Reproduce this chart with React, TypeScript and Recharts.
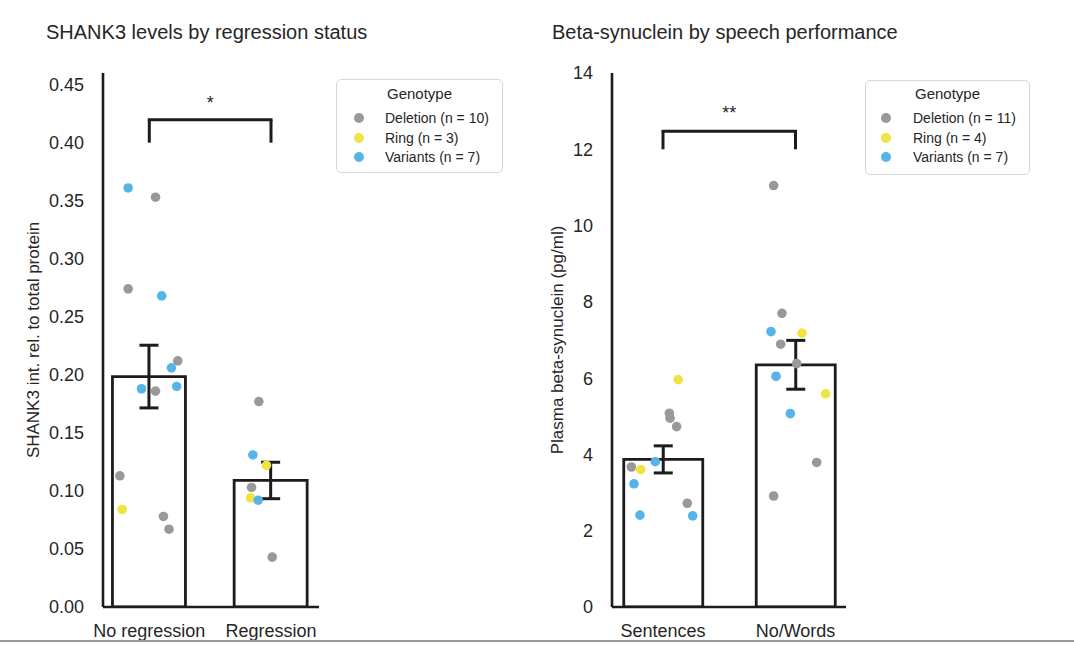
import React from 'react';
import { ComposedChart, Bar, ErrorBar, Scatter, XAxis, YAxis, ReferenceLine, Legend } from 'recharts';

// ---------- shared ----------
const GENOTYPES = ['Deletion', 'Ring', 'Variants'];
const GENO_COLORS = ['#999999', '#F0E442', '#56B4E9'];

// ---------- left panel: SHANK3 ----------
const shankCategories = ['No regression', 'Regression'];
const shankMeans = [0.1985, 0.109];
const shankSem = [0.027, 0.0157];
const shankTicks = [0, 0.05, 0.1, 0.15, 0.2, 0.25, 0.3, 0.35, 0.4, 0.45];
const shankCounts = [10, 3, 7];

const shankDelValues = [0.353, 0.274, 0.212, 0.186, 0.113, 0.078, 0.067, 0.177, 0.103, 0.043];
const shankDelGroup = [0, 0, 0, 0, 0, 0, 0, 1, 1, 1];
const shankDelJitter = [0.051, -0.174, 0.234, 0.051, -0.242, 0.116, 0.162, -0.1, -0.16, 0.01];

const shankRingValues = [0.084, 0.122, 0.094];
const shankRingGroup = [0, 1, 1];
const shankRingJitter = [-0.223, -0.037, -0.168];

const shankVarValues = [0.361, 0.268, 0.206, 0.188, 0.19, 0.131, 0.092];
const shankVarGroup = [0, 0, 0, 0, 0, 1, 1];
const shankVarJitter = [-0.174, 0.102, 0.182, -0.064, 0.225, -0.149, -0.105];

// ---------- right panel: beta-synuclein ----------
const betaCategories = ['Sentences', 'No/Words'];
const betaMeans = [3.87, 6.35];
const betaSem = [0.355, 0.64];
const betaTicks = [0, 2, 4, 6, 8, 10, 12, 14];
const betaCounts = [11, 4, 7];

const betaDelValues = [5.08, 4.95, 4.73, 3.67, 2.72, 11.05, 7.7, 6.89, 6.38, 3.79, 2.91];
const betaDelGroup = [0, 0, 0, 0, 0, 1, 1, 1, 1, 1, 1];
const betaDelJitter = [0.048, 0.053, 0.103, -0.239, 0.183, -0.165, -0.102, -0.112, 0.009, 0.16, -0.165];

const betaRingValues = [5.96, 3.6, 7.18, 5.59];
const betaRingGroup = [0, 0, 1, 1];
const betaRingJitter = [0.115, -0.168, 0.049, 0.228];

const betaVarValues = [3.81, 3.23, 2.41, 2.39, 7.22, 6.05, 5.07];
const betaVarGroup = [0, 0, 0, 0, 1, 1, 1];
const betaVarJitter = [-0.058, -0.219, -0.174, 0.224, -0.185, -0.147, -0.039];

const TEXT = '#262626';
const INK = '#1c1c1c';

function buildPoints(values: number[], groups: number[], jitter: number[]) {
  return values.map((v, i) => ({ x: groups[i] + jitter[i], y: v }));
}

function GenoLegend({ counts, circleX, textX, titleY, rowYs }: any) {
  return (
    <div
      style={{
        position: 'relative',
        width: '100%',
        height: '100%',
        boxSizing: 'border-box',
        border: '1px solid #d6d6d6',
        borderRadius: 5,
        background: '#fff',
        color: TEXT,
        fontFamily: '"Liberation Sans", Arial, sans-serif',
      }}
    >
      <div
        style={{
          position: 'absolute',
          left: 0,
          width: '100%',
          top: titleY - 10,
          height: 20,
          lineHeight: '20px',
          textAlign: 'center',
          fontSize: 15,
        }}
      >
        Genotype
      </div>
      {GENOTYPES.map((g, i) => (
        <React.Fragment key={g}>
          <div
            style={{
              position: 'absolute',
              left: circleX - 5,
              top: rowYs[i] - 5,
              width: 10,
              height: 10,
              borderRadius: '50%',
              background: GENO_COLORS[i],
            }}
          />
          <div
            style={{
              position: 'absolute',
              left: textX,
              top: rowYs[i] - 10,
              height: 20,
              lineHeight: '20px',
              fontSize: 14,
              whiteSpace: 'nowrap',
            }}
          >
            {`${g} (n = ${counts[i]})`}
          </div>
        </React.Fragment>
      ))}
    </div>
  );
}

function Panel(p: any) {
  const barData = p.categories.map((c: string, i: number) => ({ name: c, mean: p.means[i], err: p.sem[i] }));
  const dotShape = (color: string) => (props: any) => (
    <circle cx={props.cx} cy={props.cy} r={4.8} fill={color} />
  );
  return (
    <div style={{ position: 'absolute', left: p.left, top: 0 }}>
      <ComposedChart
        width={p.width}
        height={646}
        data={barData}
        margin={{ top: 73, right: p.marginRight, bottom: 9, left: 0 }}
      >
        <XAxis
          dataKey="name"
          type="category"
          axisLine={{ stroke: INK, strokeWidth: 2.6 }}
          tickLine={false}
          tickSize={0}
          tickMargin={17}
          height={30}
          interval={0}
          padding={{ left: p.padL, right: p.padR }}
          tick={{ fontSize: 18, fill: TEXT }}
        />
        <XAxis
          xAxisId="j"
          dataKey="x"
          type="number"
          domain={[-0.5, 1.5]}
          allowDataOverflow
          hide
          padding={{ left: p.padL, right: p.padR }}
        />
        <YAxis
          type="number"
          domain={p.yDomain}
          ticks={p.yTicks}
          interval={0}
          allowDataOverflow
          width={p.yAxisWidth}
          axisLine={{ stroke: INK, strokeWidth: 2.6 }}
          tickLine={false}
          tickSize={0}
          tickMargin={19}
          tickFormatter={p.fmt}
          tick={{ fontSize: 18, fill: TEXT }}
          label={{
            value: p.yLabel,
            angle: -90,
            position: 'insideLeft',
            offset: p.yLabelX,
            style: { textAnchor: 'middle' },
            fontSize: 17,
            fill: TEXT,
          }}
        />
        <Bar dataKey="mean" fill="#fff" stroke={INK} strokeWidth={2.8} barSize={p.barSize} isAnimationActive={false}>
          <ErrorBar dataKey="err" direction="y" width={9.5} stroke={INK} strokeWidth={3} />
        </Bar>
        {p.series.map((s: any, i: number) => (
          <Scatter
            key={GENOTYPES[i]}
            name={GENOTYPES[i]}
            xAxisId="j"
            data={s}
            dataKey="y"
            fill={GENO_COLORS[i]}
            shape={dotShape(GENO_COLORS[i])}
            isAnimationActive={false}
          />
        ))}
        <ReferenceLine
          xAxisId="j"
          segment={[{ x: 0, y: p.bracketBottom }, { x: 0, y: p.bracketY }]}
          stroke={INK}
          strokeWidth={3}
          ifOverflow="visible"
        />
        <ReferenceLine
          xAxisId="j"
          segment={[{ x: 1, y: p.bracketBottom }, { x: 1, y: p.bracketY }]}
          stroke={INK}
          strokeWidth={3}
          ifOverflow="visible"
        />
        <ReferenceLine
          xAxisId="j"
          segment={[{ x: 0, y: p.bracketY }, { x: 1, y: p.bracketY }]}
          stroke={INK}
          strokeWidth={3}
          strokeLinecap="square"
          ifOverflow="visible"
          label={{ value: p.stars, position: 'top', offset: p.starOffset, fontSize: 18, fill: TEXT }}
        />
        <Legend
          layout="vertical"
          align="center"
          verticalAlign="middle"
          wrapperStyle={{ left: p.legend.left, top: p.legend.top, width: p.legend.w, height: p.legend.h }}
          content={() => (
            <GenoLegend
              counts={p.counts}
              circleX={p.legend.circleX}
              textX={p.legend.textX}
              titleY={p.legend.titleY}
              rowYs={p.legend.rowYs}
            />
          )}
        />
      </ComposedChart>
    </div>
  );
}

export default function App() {
  const shankSeries = [
    buildPoints(shankDelValues, shankDelGroup, shankDelJitter),
    buildPoints(shankRingValues, shankRingGroup, shankRingJitter),
    buildPoints(shankVarValues, shankVarGroup, shankVarJitter),
  ];
  const betaSeries = [
    buildPoints(betaDelValues, betaDelGroup, betaDelJitter),
    buildPoints(betaRingValues, betaRingGroup, betaRingJitter),
    buildPoints(betaVarValues, betaVarGroup, betaVarJitter),
  ];
  const titleStyle: React.CSSProperties = {
    position: 'absolute',
    top: 22,
    fontSize: 20,
    lineHeight: '20px',
    color: TEXT,
    whiteSpace: 'nowrap',
  };
  return (
    <div
      style={{
        position: 'absolute',
        left: 0,
        top: 0,
        width: 1074,
        height: 646,
        background: '#fff',
        overflow: 'hidden',
        fontFamily: '"Liberation Sans", Arial, sans-serif',
      }}
    >
      <div style={{ ...titleStyle, left: 46 }}>SHANK3 levels by regression status</div>
      <div style={{ ...titleStyle, left: 552 }}>Beta-synuclein by speech performance</div>
      <Panel
        left={0}
        width={540}
        marginRight={221}
        yAxisWidth={103}
        padL={-14.55}
        padR={-12.85}
        barSize={73}
        categories={shankCategories}
        means={shankMeans}
        sem={shankSem}
        yDomain={[0, 0.46]}
        yTicks={shankTicks}
        fmt={(v: number) => v.toFixed(2)}
        yLabel="SHANK3 int. rel. to total protein"
        yLabelX={33}
        series={shankSeries}
        bracketY={0.4198}
        bracketBottom={0.4}
        stars="*"
        starOffset={11}
        counts={shankCounts}
        legend={{ left: 336, top: 79, w: 167, h: 94, circleX: 22, textX: 48, titleY: 14, rowYs: [38, 58, 77] }}
      />
      <Panel
        left={540}
        width={534}
        marginRight={228}
        yAxisWidth={72}
        padL={-15.25}
        padR={-15.75}
        barSize={79}
        categories={betaCategories}
        means={betaMeans}
        sem={betaSem}
        yDomain={[0, 14]}
        yTicks={betaTicks}
        fmt={(v: number) => String(v)}
        yLabel="Plasma beta-synuclein (pg/ml)"
        yLabelX={17}
        series={betaSeries}
        bracketY={12.47}
        bracketBottom={12.0}
        stars="**"
        starOffset={12}
        counts={betaCounts}
        legend={{ left: 325, top: 80, w: 165, h: 95, circleX: 20, textX: 47, titleY: 13, rowYs: [37, 57, 76] }}
      />
      <div style={{ position: 'absolute', left: 0, top: 640, width: 1074, height: 2, background: '#9a9a9a' }} />
    </div>
  );
}
